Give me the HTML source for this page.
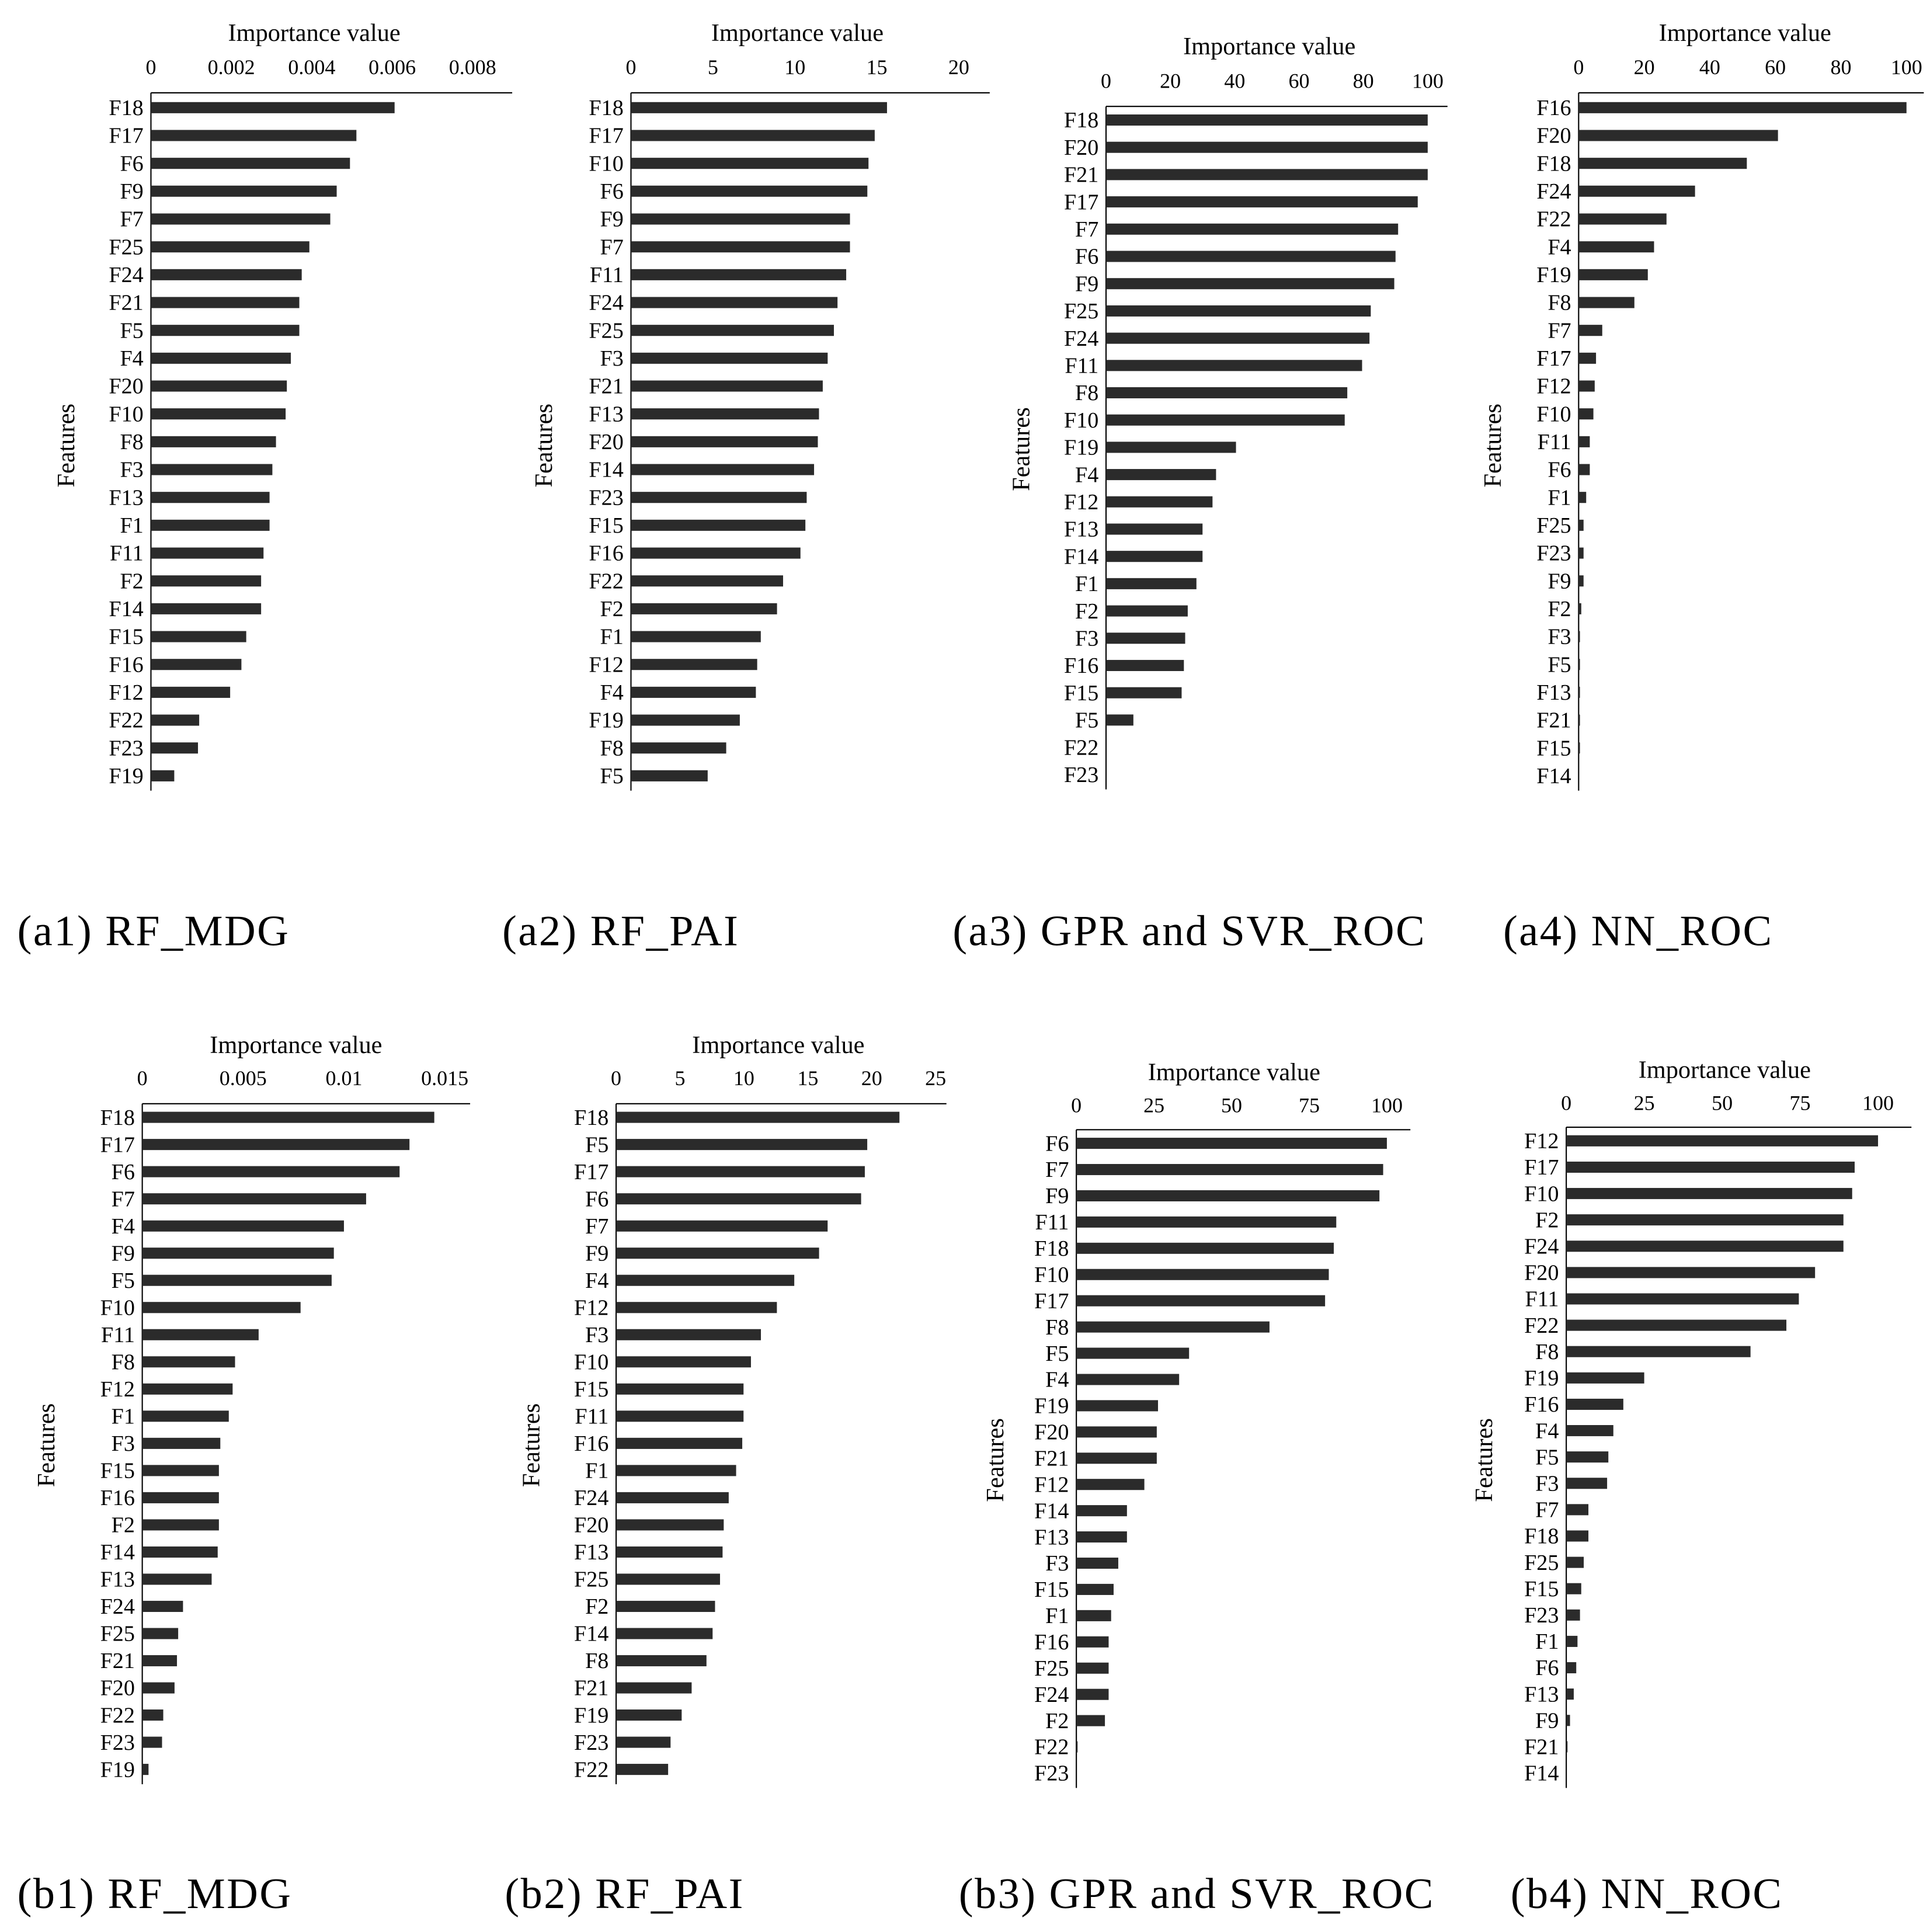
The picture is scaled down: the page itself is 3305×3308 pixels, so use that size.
<!DOCTYPE html>
<html><head><meta charset="utf-8"><style>
html,body{margin:0;padding:0;background:#fff;}
svg{display:block;font-family:"Liberation Serif",serif;}
</style></head><body>
<svg id="chart" width="3305" height="3308" viewBox="0 0 1560 1561.4" xmlns="http://www.w3.org/2000/svg">
<rect width="1560" height="1561.4" fill="#fff"/>
<g font-size="35" letter-spacing="1.2" fill="#000">
<text x="14" y="764">(a1) RF_MDG</text>
<text x="406" y="764">(a2) RF_PAI</text>
<text x="770" y="764">(a3) GPR and SVR_ROC</text>
<text x="1215" y="764">(a4) NN_ROC</text>
<text x="14" y="1542">(b1) RF_MDG</text>
<text x="408" y="1542">(b2) RF_PAI</text>
<text x="775" y="1542">(b3) GPR and SVR_ROC</text>
<text x="1221" y="1542">(b4) NN_ROC</text>
</g>
</svg>
<script>
// ---- data ----
const a1Features = ["F18","F17","F6","F9","F7","F25","F24","F21","F5","F4","F20","F10","F8","F3","F13","F1","F11","F2","F14","F15","F16","F12","F22","F23","F19"];
const a1Values = [0.00606,0.00511,0.00495,0.00462,0.00446,0.00394,0.00375,0.00369,0.00369,0.00348,0.00338,0.00335,0.00311,0.00302,0.00295,0.00295,0.00280,0.00274,0.00274,0.00237,0.00225,0.00197,0.00120,0.00117,0.00058];
const a1Ticks = ["0","0.002","0.004","0.006","0.008"];
const a1TickValues = [0,0.002,0.004,0.006,0.008];

const a2Features = ["F18","F17","F10","F6","F9","F7","F11","F24","F25","F3","F21","F13","F20","F14","F23","F15","F16","F22","F2","F1","F12","F4","F19","F8","F5"];
const a2Values = [15.62,14.87,14.49,14.42,13.36,13.36,13.13,12.6,12.38,12.0,11.7,11.47,11.4,11.17,10.72,10.64,10.34,9.28,8.91,7.92,7.7,7.62,6.64,5.81,4.68];
const a2Ticks = ["0","5","10","15","20"];
const a2TickValues = [0,5,10,15,20];

const a3Features = ["F18","F20","F21","F17","F7","F6","F9","F25","F24","F11","F8","F10","F19","F4","F12","F13","F14","F1","F2","F3","F16","F15","F5","F22","F23"];
const a3Values = [100,100,100,96.9,90.8,90,89.6,82.3,81.9,79.6,75,74.2,40.4,34.2,33.1,30,30,28.1,25.4,24.6,24.2,23.5,8.5,0,0];
const a3Ticks = ["0","20","40","60","80","100"];
const a3TickValues = [0,20,40,60,80,100];

const a4Features = ["F16","F20","F18","F24","F22","F4","F19","F8","F7","F17","F12","F10","F11","F6","F1","F25","F23","F9","F2","F3","F5","F13","F21","F15","F14"];
const a4Values = [100,60.8,51.3,35.5,26.8,23,21.1,17,7.2,5.3,4.9,4.5,3.4,3.4,2.3,1.5,1.5,1.5,0.8,0.4,0.4,0.4,0.4,0.4,0];
const a4Ticks = ["0","20","40","60","80","100"];
const a4TickValues = [0,20,40,60,80,100];

const b1Features = ["F18","F17","F6","F7","F4","F9","F5","F10","F11","F8","F12","F1","F3","F15","F16","F2","F14","F13","F24","F25","F21","F20","F22","F23","F19"];
const b1Values = [0.01448,0.01325,0.01276,0.0111,0.0100,0.0095,0.00939,0.00785,0.00577,0.0046,0.00448,0.00429,0.00387,0.0038,0.0038,0.0038,0.00374,0.00344,0.00202,0.00178,0.00172,0.0016,0.00104,0.00098,0.00031];
const b1Ticks = ["0","0.005","0.01","0.015"];
const b1TickValues = [0,0.005,0.01,0.015];

const b2Features = ["F18","F5","F17","F6","F7","F9","F4","F12","F3","F10","F15","F11","F16","F1","F24","F20","F13","F25","F2","F14","F8","F21","F19","F23","F22"];
const b2Values = [22.17,19.65,19.46,19.17,16.55,15.88,13.94,12.58,11.33,10.55,9.97,9.97,9.87,9.39,8.81,8.42,8.33,8.13,7.74,7.55,7.07,5.91,5.13,4.26,4.07];
const b2Ticks = ["0","5","10","15","20","25"];
const b2TickValues = [0,5,10,15,20,25];

const b3Features = ["F6","F7","F9","F11","F18","F10","F17","F8","F5","F4","F19","F20","F21","F12","F14","F13","F3","F15","F1","F16","F25","F24","F2","F22","F23"];
const b3Values = [100,98.8,97.6,83.7,82.9,81.3,80.1,62.2,36.3,33.1,26.3,25.9,25.9,21.9,16.3,16.3,13.5,12,11.2,10.4,10.4,10.4,9.2,0.4,0];
const b3Ticks = ["0","25","50","75","100"];
const b3TickValues = [0,25,50,75,100];

const b4Features = ["F12","F17","F10","F2","F24","F20","F11","F22","F8","F19","F16","F4","F5","F3","F7","F18","F25","F15","F23","F1","F6","F13","F9","F21","F14"];
const b4Values = [100,92.5,91.7,88.9,88.9,79.8,74.6,70.6,59.1,25,18.3,15.1,13.5,13.1,7.1,7.1,5.6,4.8,4.4,3.6,3.2,2.4,1.2,0.4,0];
const b4Ticks = ["0","25","50","75","100"];
const b4TickValues = [0,25,50,75,100];

// ---- layout (pixel geometry, not data) ----
const panels = [
 {id:"a1",f:a1Features,v:a1Values,t:a1Ticks,tv:a1TickValues,x0:122,pxPer:32500,axisY:75,lineEnd:414,row0:87,rowN:627,titleY:33,tickY:60,featX:60,featY:360},
 {id:"a2",f:a2Features,v:a2Values,t:a2Ticks,tv:a2TickValues,x0:510,pxPer:13.25,axisY:75,lineEnd:800,row0:87,rowN:627,titleY:33,tickY:60,featX:446,featY:360},
 {id:"a3",f:a3Features,v:a3Values,t:a3Ticks,tv:a3TickValues,x0:894,pxPer:2.6,axisY:86,lineEnd:1170,row0:97,rowN:626,titleY:44,tickY:71,featX:832,featY:363},
 {id:"a4",f:a4Features,v:a4Values,t:a4Ticks,tv:a4TickValues,x0:1276,pxPer:2.65,axisY:75,lineEnd:1555,row0:87,rowN:627,titleY:33,tickY:60,featX:1213,featY:360},
 {id:"b1",f:b1Features,v:b1Values,t:b1Ticks,tv:b1TickValues,x0:115,pxPer:16300,axisY:892,lineEnd:380,row0:903,rowN:1430,titleY:851,tickY:877,featX:44,featY:1168},
 {id:"b2",f:b2Features,v:b2Values,t:b2Ticks,tv:b2TickValues,x0:498,pxPer:10.33,axisY:892,lineEnd:765,row0:903,rowN:1430,titleY:851,tickY:877,featX:436,featY:1168},
 {id:"b3",f:b3Features,v:b3Values,t:b3Ticks,tv:b3TickValues,x0:870,pxPer:2.51,axisY:913,lineEnd:1140,row0:924,rowN:1433,titleY:873,tickY:899,featX:811,featY:1180},
 {id:"b4",f:b4Features,v:b4Values,t:b4Ticks,tv:b4TickValues,x0:1266,pxPer:2.52,axisY:911,lineEnd:1545,row0:922,rowN:1433,titleY:871,tickY:897,featX:1206,featY:1180}
];
const NS="http://www.w3.org/2000/svg";
const svg=document.getElementById("chart");
function mk(tag,attrs){const e=document.createElementNS(NS,tag);for(const k in attrs)e.setAttribute(k,attrs[k]);return e;}
panels.forEach(p=>{
  const g=mk("g",{});
  
  
  svg.appendChild(g);
  const xs=v=>p.x0+v*p.pxPer;
  const n=p.f.length;
  const step=(p.rowN-p.row0)/(n-1);
  const ys=i=>p.row0+i*step;
  const ax=mk("line",{x1:p.x0,y1:p.axisY,x2:p.lineEnd,y2:p.axisY,stroke:"#000","stroke-width":1});
  
  
  g.appendChild(ax);
  const ay=mk("line",{x1:p.x0,y1:p.axisY,x2:p.x0,y2:ys(n-1)+12,stroke:"#000","stroke-width":1});
  
  
  g.appendChild(ay);
  const midX=(xs(p.tv[0])+xs(p.tv[p.tv.length-1]))/2+2;
  const tt=mk("text",{x:midX,y:p.titleY,"text-anchor":"middle","font-size":20});
  tt.textContent="Importance value";
  
  
  g.appendChild(tt);
  p.t.forEach((lab,i)=>{
    const t=mk("text",{x:xs(p.tv[i]),y:p.tickY,"text-anchor":"middle","font-size":17});
    t.textContent=lab;
    
    
    g.appendChild(t);
  });
  const ft=mk("text",{x:0,y:0,"text-anchor":"middle","font-size":20,transform:`translate(${p.featX},${p.featY}) rotate(-90)`});
  ft.textContent="Features";
  
  
  g.appendChild(ft);
  p.f.forEach((name,i)=>{
    const y=ys(i);
    const l=mk("text",{x:p.x0-6,y:y+6,"text-anchor":"end","font-size":18});
    l.textContent=name;
    
    
    g.appendChild(l);
    const w=Math.max(0,xs(p.v[i])-p.x0);
    const b=mk("rect",{x:p.x0,y:y-4.5,width:w,height:9,fill:"#2b2b2b"});
    
    
    g.appendChild(b);
  });
});
</script>
</body></html>
